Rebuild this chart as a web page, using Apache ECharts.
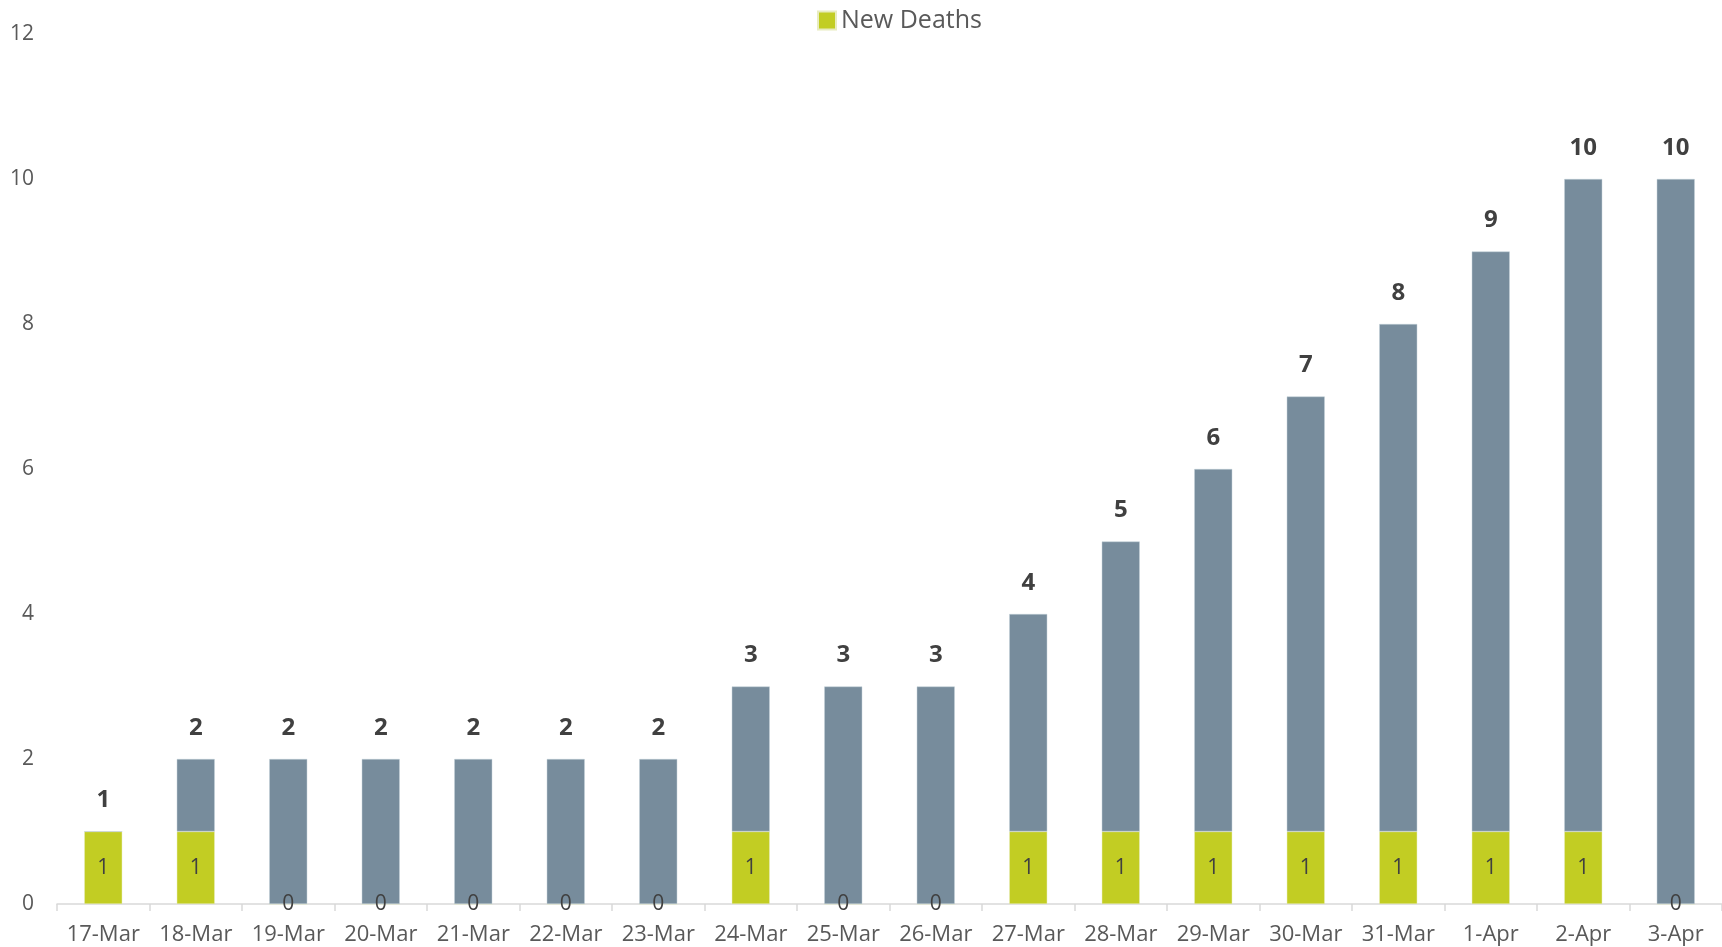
<!DOCTYPE html>
<html>
<head>
<meta charset="utf-8">
<script src="https://cdn.jsdelivr.net/npm/echarts@6/dist/echarts.min.js"></script>
<style>html,body{margin:0;padding:0;background:#fff;}#c{width:1722px;height:947px;}</style>
</head>
<body>
<div id="c"></div>
<script>
const categories = ['17-Mar','18-Mar','19-Mar','20-Mar','21-Mar','22-Mar','23-Mar','24-Mar','25-Mar','26-Mar','27-Mar','28-Mar','29-Mar','30-Mar','31-Mar','1-Apr','2-Apr','3-Apr'];
const totalDeaths = [1,2,2,2,2,2,2,3,3,3,4,5,6,7,8,9,10,10];
const newDeaths = [1,1,0,0,0,0,0,1,0,0,1,1,1,1,1,1,1,0];
const previousDeaths = [0,1,2,2,2,2,2,2,3,3,3,4,5,6,7,8,9,10];
const yTicks = [0,2,4,6,8,10,12];

const font = '"Open Sans", "Noto Sans", sans-serif';
const chart = echarts.init(document.getElementById('c'));
chart.setOption({
  animation: false,
  textStyle: { fontFamily: font },
  legend: {
    data: ['New Deaths'],
    top: 3,
    left: 812,
    itemWidth: 18, itemHeight: 18, itemGap: 9,
    icon: 'rect',
    textStyle: { fontSize: 25, color: '#595959', fontFamily: font }
  },
  grid: { left: 57, right: 0, top: 34, bottom: 43, containLabel: false },
  xAxis: {
    type: 'category',
    data: categories,
    boundaryGap: true,
    axisLine: { lineStyle: { color: '#d9d9d9', width: 1.5 } },
    axisTick: { show: true, alignWithLabel: false, length: 7, lineStyle: { color: '#d9d9d9', width: 1.5 } },
    axisLabel: { fontSize: 22, color: '#595959', margin: 20, interval: 0, fontFamily: font }
  },
  yAxis: {
    type: 'value',
    min: yTicks[0], max: yTicks[yTicks.length - 1], interval: 2,
    splitLine: { show: false },
    axisLine: { show: false },
    axisTick: { show: false },
    axisLabel: { fontSize: 21, color: '#595959', margin: 23, fontFamily: font }
  },
  series: [
    {
      name: 'New Deaths',
      type: 'bar',
      stack: 'd',
      data: newDeaths,
      barWidth: 38,
      itemStyle: { color: '#c2cd23', borderColor: '#e8ecc0', borderWidth: 0.5 },
      label: { show: true, position: 'inside', fontSize: 21, color: '#404040', fontFamily: font }
    },
    {
      name: 'Previous',
      type: 'bar',
      stack: 'd',
      data: previousDeaths,
      barWidth: 38,
      itemStyle: { color: '#778c9c', borderColor: '#c5d0d8', borderWidth: 0.5 },
      label: {
        show: true, position: 'top', distance: 19,
        fontSize: 24, fontWeight: 'bold', color: '#404040', fontFamily: font,
        formatter: p => String(totalDeaths[p.dataIndex])
      }
    }
  ]
});
</script>
</body>
</html>
